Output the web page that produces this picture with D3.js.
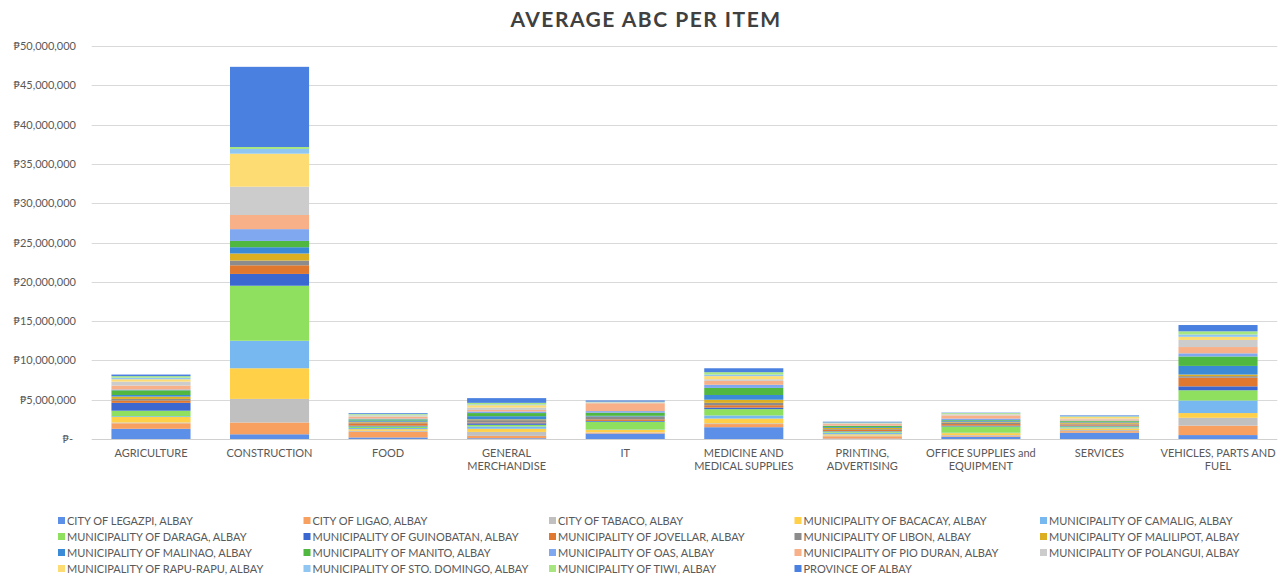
<!DOCTYPE html>
<html><head><meta charset="utf-8">
<script src="https://cdn.jsdelivr.net/npm/d3@7"></script>
<style>
body{margin:0;background:#fff;}
svg{display:block;font-family:Lato,"Open Sans",sans-serif;}
</style></head>
<body><svg id="chart" width="1283" height="575"></svg>
<script>
const categories = ["AGRICULTURE","CONSTRUCTION","FOOD","GENERAL MERCHANDISE","IT","MEDICINE AND MEDICAL SUPPLIES","PRINTING, ADVERTISING","OFFICE SUPPLIES and EQUIPMENT","SERVICES","VEHICLES, PARTS AND FUEL"];
const categoryLines = [["AGRICULTURE"],["CONSTRUCTION"],["FOOD"],["GENERAL","MERCHANDISE"],["IT"],["MEDICINE AND","MEDICAL SUPPLIES"],["PRINTING,","ADVERTISING"],["OFFICE SUPPLIES and","EQUIPMENT"],["SERVICES"],["VEHICLES, PARTS AND","FUEL"]];
const seriesNames = ["CITY OF LEGAZPI, ALBAY","CITY OF LIGAO, ALBAY","CITY OF TABACO, ALBAY","MUNICIPALITY OF BACACAY, ALBAY","MUNICIPALITY OF CAMALIG, ALBAY","MUNICIPALITY OF DARAGA, ALBAY","MUNICIPALITY OF GUINOBATAN, ALBAY","MUNICIPALITY OF JOVELLAR, ALBAY","MUNICIPALITY OF LIBON, ALBAY","MUNICIPALITY OF MALILIPOT, ALBAY","MUNICIPALITY OF MALINAO, ALBAY","MUNICIPALITY OF MANITO, ALBAY","MUNICIPALITY OF OAS, ALBAY","MUNICIPALITY OF PIO DURAN, ALBAY","MUNICIPALITY OF POLANGUI, ALBAY","MUNICIPALITY OF RAPU-RAPU, ALBAY","MUNICIPALITY OF STO. DOMINGO, ALBAY","MUNICIPALITY OF TIWI, ALBAY","PROVINCE OF ALBAY"];
// values per series, in category order
const legazpi    = [1300000,  600000, 200000, 100000, 700000,1500000, 50000, 300000, 800000,  500000];
const ligao      = [ 700000, 1500000, 700000, 300000, 100000, 400000,300000, 100000, 200000, 1200000];
const tabaco     = [ 100000, 3000000, 150000, 500000,  50000, 100000,100000, 100000, 150000, 1000000];
const bacacay    = [ 700000, 3900000, 200000, 400000, 300000, 600000,150000, 250000, 200000,  600000];
const camalig    = [ 100000, 3500000, 150000, 300000,  50000, 400000,200000,  50000, 100000, 1600000];
const daraga     = [ 700000, 7000000, 200000, 200000,1000000, 800000,150000, 800000, 150000, 1300000];
const guinobatan = [1000000, 1500000, 100000, 200000, 100000, 200000, 50000, 100000, 100000,  500000];
const jovellar   = [ 300000, 1100000, 300000, 100000, 200000, 300000,150000, 200000, 150000, 1100000];
const libon      = [ 200000,  600000, 100000, 300000, 300000, 300000,100000, 200000, 100000,  200000];
const malilipot  = [ 300000,  900000, 100000, 100000,  50000, 400000,150000, 100000, 150000,  200000];
const malinao    = [ 200000,  800000, 150000, 400000, 100000, 600000,100000, 100000, 100000, 1100000];
const manito     = [ 600000,  800000, 150000, 400000, 400000, 900000,150000, 100000, 100000, 1200000];
const oas        = [ 100000, 1500000, 100000, 200000, 200000, 400000, 50000, 200000,  50000,  400000];
const pioDuran   = [ 500000, 1800000, 200000, 200000,1000000, 500000,200000, 400000, 150000,  800000];
const polangui   = [ 500000, 3600000, 100000, 300000,  50000, 200000, 50000, 100000, 100000,  900000];
const rapuRapu   = [ 300000, 4200000, 100000, 300000,  50000, 400000, 50000,  50000, 200000,  400000];
const stoDomingo = [ 200000,  600000, 100000, 100000,  50000, 200000, 50000,  50000,  50000,  300000];
const tiwi       = [ 200000,  250000, 100000, 200000,  50000, 300000, 50000, 100000,  50000,  400000];
const province   = [ 200000,10200000, 100000, 600000, 150000, 500000,100000,  50000, 100000,  800000];
const seriesValues = [legazpi,ligao,tabaco,bacacay,camalig,daraga,guinobatan,jovellar,libon,malilipot,malinao,manito,oas,pioDuran,polangui,rapuRapu,stoDomingo,tiwi,province];
const yTicks = [0,5000000,10000000,15000000,20000000,25000000,30000000,35000000,40000000,45000000,50000000];
const colors = ["#5b8fe8","#f8a060","#c0c0c0","#ffd048","#78b8f0","#90e060","#3a68d0","#e07830","#8c8c8c","#dcae22","#3a8ad8","#50b840","#80a8f0","#f8b088","#cccccc","#fedc74","#90c6f2","#a8e680","#4a80e0"];

const svg = d3.select("#chart");
const x = d3.scaleBand().domain(categories).range([91.7, 1277.3]).paddingInner(0.333).paddingOuter(0.1665);
const y = d3.scaleLinear().domain([0, 50000000]).range([439, 46]);

const rows = categories.map((c, i) => {
  const r = {category: c};
  seriesNames.forEach((s, j) => r[s] = seriesValues[j][i]);
  return r;
});
const stacked = d3.stack().keys(seriesNames)(rows);

// title
svg.append("text").attr("x", 646).attr("y", 27).attr("text-anchor", "middle")
  .attr("font-size", 21).attr("font-weight", "bold").attr("fill", "#404040")
  .attr("letter-spacing", 1.5).text("AVERAGE ABC PER ITEM");

// gridlines
svg.append("g").selectAll("line").data(yTicks.filter(d => d > 0)).join("line")
  .attr("x1", 91.7).attr("x2", 1277.3)
  .attr("y1", d => Math.round(y(d)) + 0.5).attr("y2", d => Math.round(y(d)) + 0.5)
  .attr("stroke", "#d9d9d9").attr("stroke-width", 1);

// y labels
const fmt = d3.format(",");
svg.append("g").selectAll("text").data(yTicks).join("text")
  .attr("x", d => d === 0 ? 73 : 76).attr("y", d => y(d) + 4)
  .attr("text-anchor", "end").attr("font-size", 11).attr("fill", "#595959")
  .text(d => d === 0 ? "\u20B1-" : "\u20B1" + fmt(d));

// bars
svg.append("g").selectAll("g").data(stacked).join("g")
  .attr("fill", (d, i) => colors[i])
  .selectAll("rect").data(d => d).join("rect")
  .attr("x", d => x(d.data.category))
  .attr("width", x.bandwidth())
  .attr("y", d => y(d[1]))
  .attr("height", d => Math.max(0, y(d[0]) - y(d[1])));

// baseline
svg.append("line").attr("x1", 91.7).attr("x2", 1277.3).attr("y1", 439.5).attr("y2", 439.5)
  .attr("stroke", "#d0d0d0").attr("stroke-width", 1);

// category labels
const cl = svg.append("g");
categories.forEach((c, i) => {
  const cx = x(c) + x.bandwidth() / 2;
  const t = cl.append("text").attr("text-anchor", "middle").attr("font-size", 11).attr("fill", "#595959");
  categoryLines[i].forEach((line, k) => {
    t.append("tspan").attr("x", cx).attr("y", 457 + k * 13).text(line);
  });
});

// legend
const legend = svg.append("g");
seriesNames.forEach((s, i) => {
  const col = i % 5, row = Math.floor(i / 5);
  const lx = 58 + col * 245.5, ly = 521 + row * 16;
  legend.append("rect").attr("x", lx).attr("y", ly - 4).attr("width", 7).attr("height", 7).attr("fill", colors[i]);
  legend.append("text").attr("x", lx + 9).attr("y", ly + 3.5).attr("font-size", 11).attr("fill", "#595959").text(s);
});
</script></body></html>
